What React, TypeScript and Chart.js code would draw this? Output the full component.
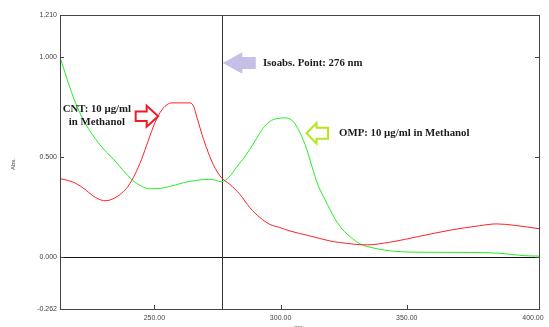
import React, { useEffect, useRef } from "react";
import { Chart, registerables } from "chart.js";

Chart.register(...registerables);

// ---- Data ----
const cntWavelength = [212.6, 215.9, 219.0, 222.5, 225.5, 228.0, 230.5, 233.5, 237.0, 239.6, 242.3, 244.9, 247.5, 250.2, 252.9, 255.5, 257.5, 264.1, 265.6, 266.9, 269.5, 273.3, 276.6, 279.9, 283.9, 287.8, 291.8, 295.7, 299.7, 303.6, 311.6, 319.5, 323.4, 334.1, 343.2, 355.1, 366.9, 378.8, 385.6, 392.7, 402.4];
const cntAbs = [0.390, 0.381, 0.366, 0.337, 0.306, 0.288, 0.280, 0.289, 0.318, 0.353, 0.412, 0.487, 0.578, 0.670, 0.734, 0.765, 0.770, 0.770, 0.751, 0.696, 0.587, 0.462, 0.395, 0.362, 0.312, 0.246, 0.196, 0.162, 0.146, 0.129, 0.104, 0.079, 0.071, 0.059, 0.072, 0.102, 0.132, 0.155, 0.164, 0.157, 0.140];

const ompWavelength = [212.6, 215.9, 218.5, 222.5, 227.8, 234.4, 241.0, 244.9, 248.2, 250.2, 258.1, 261.4, 271.3, 273.9, 276.6, 279.9, 282.5, 285.0, 287.8, 290.5, 293.0, 295.7, 298.5, 301.7, 304.9, 307.7, 310.4, 312.4, 315.0, 317.6, 319.5, 323.4, 327.4, 331.4, 337.3, 345.2, 359.1, 374.9, 386.8, 396.7, 402.4];
const ompAbs = [1.000, 0.870, 0.778, 0.670, 0.570, 0.479, 0.387, 0.353, 0.340, 0.340, 0.358, 0.370, 0.387, 0.384, 0.375, 0.402, 0.447, 0.487, 0.537, 0.592, 0.642, 0.677, 0.691, 0.695, 0.678, 0.620, 0.537, 0.453, 0.353, 0.287, 0.237, 0.154, 0.102, 0.065, 0.042, 0.027, 0.022, 0.021, 0.017, 0.005, 0.003];

const xTickValues = [250, 300, 350, 400];
const yTickValues = [-0.262, 0, 0.5, 1.0, 1.21];
const xInnerTicks = [250, 300, 350];
const yInnerTicks = [0, 0.5, 1.0];
const X_MIN = 212.6;
const X_MAX = 402.4;
const Y_MIN = -0.262;
const Y_MAX = 1.21;
const ISOABS_NM = 276.6;

const isoLabel = "Isoabs. Point: 276 nm";
const cntLabel1 = "CNT: 10 µg/ml";
const cntLabel2 = "in Methanol";
const ompLabel = "OMP: 10 µg/ml in Methanol";
const yTitle = "Abs.";
const xTitle = "nm";

// annotation anchors in data units
const isoArrowTip = { x: 277.1, y: 0.97 };
const isoTextAt = { x: 293.0, y: 0.97 };
const cntTextAt = { x: 227.2, y: 0.736, y2: 0.673 };
const cntArrowTip = { x: 251.9, y: 0.703 };
const ompArrowTip = { x: 309.9, y: 0.618 };
const ompTextAt = { x: 323.2, y: 0.618 };

const annFont = "bold 10.8px 'Liberation Serif', 'Times New Roman', serif";

function arrowPath(ctx: CanvasRenderingContext2D, tx: number, ty: number, dir: number, headLen: number, headHalf: number, totalLen: number, shaftHalf: number) {
  const s = -dir;
  ctx.beginPath();
  ctx.moveTo(tx, ty);
  ctx.lineTo(tx + s * headLen, ty - headHalf);
  ctx.lineTo(tx + s * headLen, ty - shaftHalf);
  ctx.lineTo(tx + s * totalLen, ty - shaftHalf);
  ctx.lineTo(tx + s * totalLen, ty + shaftHalf);
  ctx.lineTo(tx + s * headLen, ty + shaftHalf);
  ctx.lineTo(tx + s * headLen, ty + headHalf);
  ctx.closePath();
}

const overlay = {
  id: "overlay",
  beforeDatasetsDraw(chart: any) {
    const { ctx, chartArea: a, scales } = chart;
    const x = scales.x, y = scales.y;
    ctx.save();
    ctx.lineWidth = 1;
    const y0 = Math.round(y.getPixelForValue(0)) + 0.5;
    ctx.strokeStyle = "#111";
    ctx.beginPath();
    ctx.moveTo(a.left, y0);
    ctx.lineTo(a.right, y0);
    ctx.stroke();
    const xi = Math.round(x.getPixelForValue(ISOABS_NM)) + 0.5;
    ctx.strokeStyle = "#333";
    ctx.beginPath();
    ctx.moveTo(xi, a.top);
    ctx.lineTo(xi, a.bottom);
    ctx.stroke();
    ctx.restore();
  },
  afterDraw(chart: any) {
    const { ctx, chartArea: a, scales } = chart;
    const x = scales.x, y = scales.y;
    ctx.save();
    ctx.strokeStyle = "#444";
    ctx.lineWidth = 1;
    ctx.strokeRect(Math.round(a.left) + 0.5, Math.round(a.top) + 0.5, Math.round(a.right - a.left), Math.round(a.bottom - a.top));
    ctx.beginPath();
    for (const v of yInnerTicks) {
      const py = Math.round(y.getPixelForValue(v)) + 0.5;
      ctx.moveTo(a.left, py);
      ctx.lineTo(a.left + 4, py);
      ctx.moveTo(a.right, py);
      ctx.lineTo(a.right - 4, py);
    }
    for (const v of xInnerTicks) {
      const px = Math.round(x.getPixelForValue(v)) + 0.5;
      ctx.moveTo(px, a.bottom);
      ctx.lineTo(px, a.bottom - 4);
    }
    ctx.stroke();
    ctx.fillStyle = "#444";
    ctx.font = "6px 'Liberation Sans', Arial, sans-serif";
    ctx.save();
    ctx.translate(13, (a.top + a.bottom) / 2 + 2);
    ctx.rotate(-Math.PI / 2);
    ctx.textAlign = "center";
    ctx.textBaseline = "middle";
    ctx.fillText(yTitle, 0, 0);
    ctx.restore();
    ctx.textAlign = "center";
    ctx.textBaseline = "top";
    ctx.fillText(xTitle, 298.5, 324);

    const ix = x.getPixelForValue(isoArrowTip.x), iy = y.getPixelForValue(isoArrowTip.y);
    arrowPath(ctx, ix, iy, -1, 19.5, 10.7, 33, 6);
    ctx.fillStyle = "#c8bfe7";
    ctx.fill();

    const cx = x.getPixelForValue(cntArrowTip.x), cy = y.getPixelForValue(cntArrowTip.y);
    arrowPath(ctx, cx - 1, cy, 1, 11.5, 10.5, 22.5, 4.8);
    ctx.fillStyle = "#fff";
    ctx.fill();
    ctx.strokeStyle = "#ed1c24";
    ctx.lineWidth = 2;
    ctx.lineJoin = "miter";
    ctx.stroke();

    const ox = x.getPixelForValue(ompArrowTip.x), oy = y.getPixelForValue(ompArrowTip.y);
    arrowPath(ctx, ox + 1, oy, -1, 10, 10.2, 21.5, 5.4);
    ctx.fillStyle = "#fff";
    ctx.fill();
    ctx.strokeStyle = "#b5e61d";
    ctx.lineWidth = 2;
    ctx.stroke();

    ctx.fillStyle = "#1c1c1c";
    ctx.font = annFont;
    ctx.textBaseline = "middle";
    ctx.textAlign = "left";
    ctx.fillText(isoLabel, x.getPixelForValue(isoTextAt.x), y.getPixelForValue(isoTextAt.y));
    ctx.fillText(ompLabel, x.getPixelForValue(ompTextAt.x), y.getPixelForValue(ompTextAt.y));
    ctx.textAlign = "center";
    ctx.fillText(cntLabel1, x.getPixelForValue(cntTextAt.x), y.getPixelForValue(cntTextAt.y));
    ctx.fillText(cntLabel2, x.getPixelForValue(cntTextAt.x), y.getPixelForValue(cntTextAt.y2));
    ctx.restore();
  },
};

export default function App() {
  const ref = useRef<HTMLCanvasElement | null>(null);
  useEffect(() => {
    if (!ref.current) return;
    const chart = new Chart(ref.current, {
      type: "line",
      data: {
        datasets: [
          {
            label: "CNT",
            data: cntWavelength.map((w, i) => ({ x: w, y: cntAbs[i] })),
            borderColor: "#ff2020",
            borderWidth: 1,
            pointRadius: 0,
            cubicInterpolationMode: "monotone",
            fill: false,
          },
          {
            label: "OMP",
            data: ompWavelength.map((w, i) => ({ x: w, y: ompAbs[i] })),
            borderColor: "#22ee22",
            borderWidth: 1,
            pointRadius: 0,
            cubicInterpolationMode: "monotone",
            fill: false,
          },
        ],
      },
      options: {
        animation: false,
        responsive: false,
        devicePixelRatio: 1,
        layout: { padding: { top: 15, right: 10, left: 0, bottom: 0 } },
        plugins: { legend: { display: false }, tooltip: { enabled: false } },
        scales: {
          x: {
            type: "linear",
            min: X_MIN,
            max: X_MAX,
            grid: { display: false, drawTicks: false },
            border: { display: false },
            afterBuildTicks: (s: any) => {
              s.ticks = xTickValues.map((v) => ({ value: v }));
            },
            afterFit: (s: any) => {
              s.height = 18;
            },
            ticks: {
              autoSkip: false,
              maxRotation: 0,
              padding: 5,
              color: "#444",
              font: { family: "'Liberation Sans', Arial, sans-serif", size: 7 },
              callback: (v: any) => Number(v).toFixed(2),
            },
          },
          y: {
            type: "linear",
            min: Y_MIN,
            max: Y_MAX,
            grid: { display: false, drawTicks: false },
            border: { display: false },
            afterBuildTicks: (s: any) => {
              s.ticks = yTickValues.map((v) => ({ value: v }));
            },
            afterFit: (s: any) => {
              s.width = 60;
            },
            ticks: {
              autoSkip: false,
              padding: 3,
              color: "#444",
              font: { family: "'Liberation Sans', Arial, sans-serif", size: 7 },
              callback: (v: any) => Number(v).toFixed(3),
            },
          },
        },
      },
      plugins: [overlay],
    } as any);
    return () => chart.destroy();
  }, []);
  return (
    <div style={{ position: "fixed", left: 0, top: 0, width: 549, height: 327, background: "#fff" }}>
      <canvas ref={ref} width={549} height={327} style={{ display: "block" }} />
    </div>
  );
}
